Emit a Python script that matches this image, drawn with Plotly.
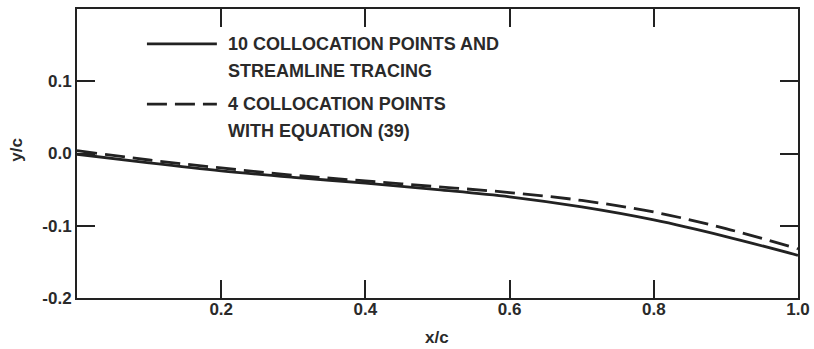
import plotly.graph_objects as go

x_c = [0.0, 0.1, 0.2, 0.3, 0.4, 0.5, 0.6, 0.7, 0.8, 0.9, 1.0]
y_solid = [-0.001, -0.013, -0.024, -0.033, -0.041, -0.050, -0.060, -0.074, -0.092, -0.115, -0.141]
y_dashed = [0.004, -0.009, -0.020, -0.030, -0.038, -0.046, -0.054, -0.065, -0.081, -0.104, -0.132]

x_ticks = [0.2, 0.4, 0.6, 0.8, 1.0]
x_tick_labels = ["0.2", "0.4", "0.6", "0.8", "1.0"]
y_ticks = [-0.2, -0.1, 0.0, 0.1]
y_tick_labels = ["-0.2", "-0.1", "0.0", "0.1"]

legend_lines = [["10 COLLOCATION POINTS AND", "STREAMLINE TRACING"],
                ["4 COLLOCATION POINTS", "WITH EQUATION (39)"]]

ink = "#222222"
txt = "#2a2a2a"
fam = "Liberation Sans, Arial, sans-serif"
font = dict(family=fam, size=18, color=txt)
tfont = dict(family=fam, size=17, color=txt)
dash_pat = "20px,8px"

fig = go.Figure()
fig.add_trace(go.Scatter(x=x_c, y=y_solid, mode="lines",
                         line=dict(color=ink, width=2.8, shape="spline", smoothing=1.0),
                         showlegend=False))
fig.add_trace(go.Scatter(x=x_c, y=y_dashed, mode="lines",
                         line=dict(color=ink, width=2.8, dash=dash_pat, shape="spline", smoothing=1.0),
                         showlegend=False))

# manual legend (paper coordinates)
leg_y = [(0.879, 0.785), (0.671, 0.578)]
leg_dash = ["solid", dash_pat]
for (y1, y2), dash, lines in zip(leg_y, leg_dash, legend_lines):
    fig.add_shape(type="line", xref="paper", yref="paper", x0=0.097, x1=0.194, y0=y1, y1=y1,
                  line=dict(color=ink, width=2.8, dash=dash))
    for yy, lab in zip((y1, y2), lines):
        fig.add_annotation(xref="paper", yref="paper", x=0.207, y=yy, text="<b>" + lab + "</b>",
                           showarrow=False, xanchor="left", yanchor="middle", align="left",
                           font=font)

# axis titles
fig.add_annotation(xref="paper", yref="paper", x=0.499, y=-0.135, text="<b>x/c</b>",
                   showarrow=False, xanchor="center", yanchor="middle", font=tfont)
fig.add_annotation(xref="paper", yref="paper", x=-0.085, y=0.512, text="<b>y/c</b>", textangle=-90,
                   showarrow=False, xanchor="center", yanchor="middle", font=tfont)

axis_common = dict(showline=True, linecolor=ink, linewidth=2, mirror="ticks", ticks="inside",
                   ticklen=18, tickwidth=1.5, tickcolor=ink, showgrid=False, zeroline=False,
                   automargin=False, tickfont=tfont)

fig.update_xaxes(range=[0, 1.0], tickvals=x_ticks, ticktext=["<b>%s</b>" % t for t in x_tick_labels],
                 ticklabelstandoff=-5, **axis_common)
fig.update_yaxes(range=[-0.2, 0.2], tickvals=y_ticks, ticktext=["<b>%s</b>" % t for t in y_tick_labels],
                 **axis_common)

fig.update_layout(width=814, height=349, margin=dict(l=77, r=16, t=9, b=51),
                  plot_bgcolor="white", paper_bgcolor="white")

fig.write_html("out.html")
